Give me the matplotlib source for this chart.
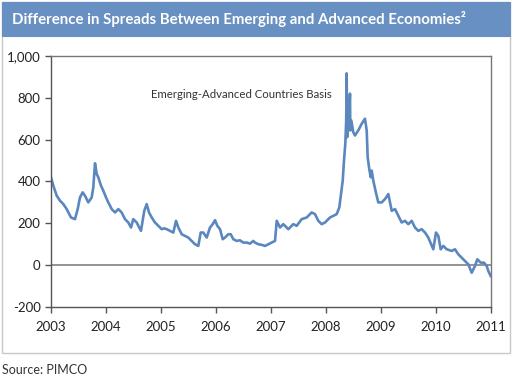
import matplotlib
matplotlib.use("Agg")
import matplotlib.pyplot as plt
from matplotlib.patches import Rectangle
from matplotlib.ticker import FuncFormatter

plt.rcParams['font.family'] = ['Lato', 'DejaVu Sans']

# decimal year, spread difference (bp)
anos = [2003.000, 2003.042, 2003.104, 2003.164, 2003.224, 2003.285, 2003.364, 2003.436,
        2003.485, 2003.527, 2003.576, 2003.618, 2003.678, 2003.740, 2003.769, 2003.800,
        2003.831, 2003.860, 2003.909, 2003.951, 2004.000, 2004.042, 2004.104, 2004.164,
        2004.224, 2004.285, 2004.345, 2004.405, 2004.455, 2004.496, 2004.558, 2004.636,
        2004.696, 2004.740, 2004.782, 2004.831, 2004.891, 2004.951, 2005.013, 2005.060,
        2005.104, 2005.164, 2005.224, 2005.273, 2005.315, 2005.376, 2005.436, 2005.496,
        2005.558, 2005.618, 2005.678, 2005.722, 2005.769, 2005.831, 2005.891, 2005.940,
        2005.982, 2006.024, 2006.073, 2006.122, 2006.164, 2006.224, 2006.267, 2006.315,
        2006.376, 2006.436, 2006.496, 2006.558, 2006.618, 2006.678, 2006.709, 2006.769,
        2006.831, 2006.891, 2006.951, 2007.013, 2007.073, 2007.104, 2007.164, 2007.224,
        2007.315, 2007.405, 2007.467, 2007.558, 2007.649, 2007.740, 2007.800, 2007.860,
        2007.922, 2007.982, 2008.073, 2008.133, 2008.195, 2008.242, 2008.273, 2008.304,
        2008.327, 2008.351, 2008.367, 2008.376, 2008.385, 2008.395, 2008.413, 2008.436,
        2008.442, 2008.460, 2008.496, 2008.527, 2008.587, 2008.649, 2008.709, 2008.740,
        2008.758, 2008.782, 2008.813, 2008.831, 2008.860, 2008.909, 2008.951, 2009.013,
        2009.073, 2009.133, 2009.195, 2009.255, 2009.315, 2009.376, 2009.436, 2009.496,
        2009.558, 2009.618, 2009.678, 2009.740, 2009.800, 2009.860, 2009.951, 2010.000,
        2010.042, 2010.085, 2010.133, 2010.195, 2010.285, 2010.345, 2010.405, 2010.467,
        2010.527, 2010.587, 2010.649, 2010.709, 2010.751, 2010.813, 2010.873, 2010.922,
        2010.951, 2010.995]
spread = [420, 380, 332, 308, 292, 268, 228, 220,
          268, 324, 348, 332, 300, 324, 372, 487,
          436, 420, 380, 356, 324, 300, 268, 252,
          268, 252, 220, 204, 180, 220, 204, 164,
          260, 292, 252, 228, 204, 188, 172, 176,
          172, 164, 156, 212, 180, 148, 140, 132,
          116, 100, 92, 156, 156, 132, 180, 196,
          215, 188, 172, 124, 132, 148, 148, 124,
          116, 119, 108, 108, 103, 116, 108, 100,
          97, 92, 100, 108, 116, 212, 180, 196,
          172, 196, 188, 220, 228, 252, 244, 212,
          196, 204, 228, 236, 244, 276, 340, 404,
          500, 580, 692, 917, 612, 708, 660, 820,
          644, 692, 636, 620, 644, 676, 700, 644,
          516, 468, 420, 452, 404, 345, 300, 300,
          316, 340, 260, 268, 236, 204, 212, 196,
          212, 180, 164, 172, 156, 132, 76, 156,
          140, 76, 92, 76, 68, 76, 52, 36,
          20, 4, -36, -4, 28, 12, 12, -4,
          -28, -52]
anos_ticks = list(range(2003, 2012))
rotulo = 'Emerging-Advanced Countries Basis'

azul = '#5b87bf'
cinza = '#808080'

fig = plt.figure(figsize=(5.13, 3.80), dpi=100)

# moldura e faixa do titulo
fig.patches.append(Rectangle((2 / 513, 1 - 353 / 380), 508 / 513, 351 / 380,
                             transform=fig.transFigure, facecolor='white',
                             edgecolor='#c8c8c8', linewidth=1.0, zorder=-2))
fig.patches.append(Rectangle((2 / 513, 1 - 36 / 380), 508 / 513, 34 / 380,
                             transform=fig.transFigure, facecolor='#6890c2',
                             edgecolor='#6890c2', linewidth=0.8, zorder=-1))
fig.text(12 / 513, 1 - 19 / 380, 'Difference in Spreads Between Emerging and Advanced Economies²',
         color='white', fontsize=10.8, fontweight='bold', va='center', ha='left')
fig.text(2 / 513, 1 - 370 / 380, 'Source: PIMCO', fontsize=9, color='#333333',
         va='center', ha='left')

ax = fig.add_axes([51 / 513, 1 - 307 / 380, 440 / 513, 251 / 380])
ax.set_zorder(5)
ax.plot(anos, spread, color=azul, linewidth=1.9, solid_joinstyle='round')
ax.axhline(0, color=cinza, linewidth=1.2, zorder=1)

ax.set_xlim(2003, 2011)
ax.set_ylim(-200, 1000)
ax.set_xticks(anos_ticks)
ax.set_xticklabels([str(a) for a in anos_ticks])
ax.set_yticks(range(-200, 1001, 200))
ax.yaxis.set_major_formatter(FuncFormatter(lambda v, p: f"{int(v):,}"))
ax.tick_params(axis='both', direction='out', length=4, width=1, color='#555555',
               labelsize=9.5, labelcolor='#222222')
ax.tick_params(axis='x', pad=6)
for lado in ['left', 'bottom']:
    ax.spines[lado].set_color('#555555')
    ax.spines[lado].set_linewidth(1.0)
for lado in ['top', 'right']:
    ax.spines[lado].set_color('#777777')
    ax.spines[lado].set_linewidth(1.0)

ax.text(2004.82, 815, rotulo, fontsize=8.2, color='#333333', va='center', ha='left')

fig.savefig('out.png', dpi=100, facecolor='white')
